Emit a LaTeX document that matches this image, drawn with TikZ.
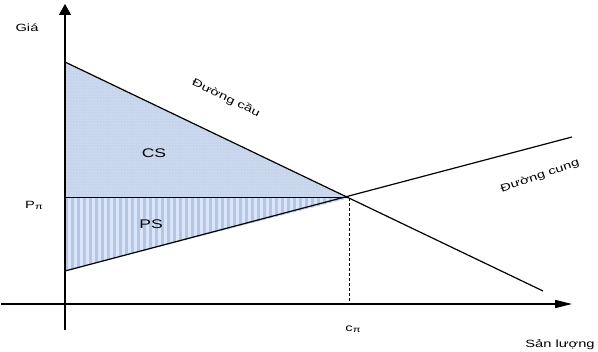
\documentclass[tikz,border=0pt]{standalone}
\usepackage{fontspec}
\setmainfont{Liberation Sans}
\newfontfamily\widefont[FakeStretch=1.4]{Liberation Sans}
\usetikzlibrary{arrows.meta,patterns}
\definecolor{fillblue}{HTML}{C6D4EC}
\definecolor{stripebase}{HTML}{DCE5F4}
\definecolor{stripeblue}{HTML}{B4C6E4}
\tikzset{
  yaxis/.style={line width=1.5pt,-{Triangle[length=11pt,width=12pt]}},
  xaxis/.style={line width=1.5pt,-{Triangle[length=17pt,width=8pt]}},
  curve/.style={line width=1.2pt},
  lbl/.style={font=\widefont\fontsize{10.5}{12}\selectfont, inner sep=0pt},
  big/.style={font=\widefont\fontsize{12.5}{14}\selectfont, inner sep=0pt},
}
\begin{document}
\begin{tikzpicture}[x=1pt,y=-1pt]
\useasboundingbox (0,0) rectangle (598,352);
% coordinates
\coordinate (D0) at (65,62);
\coordinate (D1) at (543,291);
\coordinate (S0) at (65,271);
\coordinate (S1) at (572,137);
\coordinate (E) at (349,198);
\coordinate (PE) at (65,198);
\coordinate (QE) at (349,304);
% CS area
\fill[fillblue] (D0) -- (E) -- (PE) -- cycle;
\fill[pattern=dots, pattern color=white!65!fillblue] (D0) -- (E) -- (PE) -- cycle;
% PS area
\fill[stripebase] (PE) -- (E) -- (S0) -- cycle;
\begin{scope}
\clip (PE) -- (E) -- (S0) -- cycle;
\foreach \x in {66,72,...,350} {
  \draw[stripeblue, line width=3pt] (\x,190) -- (\x,280);
}
\end{scope}
% lines
\draw[line width=1pt] (PE) -- (E);
\draw[dashed, dash pattern=on 3pt off 2pt, line width=0.6pt] (E) -- (QE);
\draw[curve] (D0) -- (D1);
\draw[curve] (S0) -- (S1);
% axes
\coordinate (Ybot) at (65,330);
\coordinate (Ytop) at (65,4);
\coordinate (Xl) at (1,304);
\coordinate (Xr) at (572,304);
\draw[yaxis] (Ybot) -- (Ytop);
\draw[xaxis] (Xl) -- (Xr);
% labels
\node[lbl] (gia) at (27,28) {Giá};
\node[lbl] (p) at (34,205) {P\raisebox{-1pt}{\fontsize{8}{9}\selectfont π}};
\node[lbl] (c) at (353,329) {c\raisebox{-1pt}{\fontsize{8}{9}\selectfont π}};
\node[lbl] (q) at (560,345) {Sản lượng};
\node[lbl, rotate=-26] (dc) at (226,98) {Đường cầu};
\node[lbl, rotate=19] (sc) at (540,176) {Đường cung};
\node[big] (cs) at (154,153) {CS};
\node[big] (ps) at (151,224) {PS};
\end{tikzpicture}
\end{document}
